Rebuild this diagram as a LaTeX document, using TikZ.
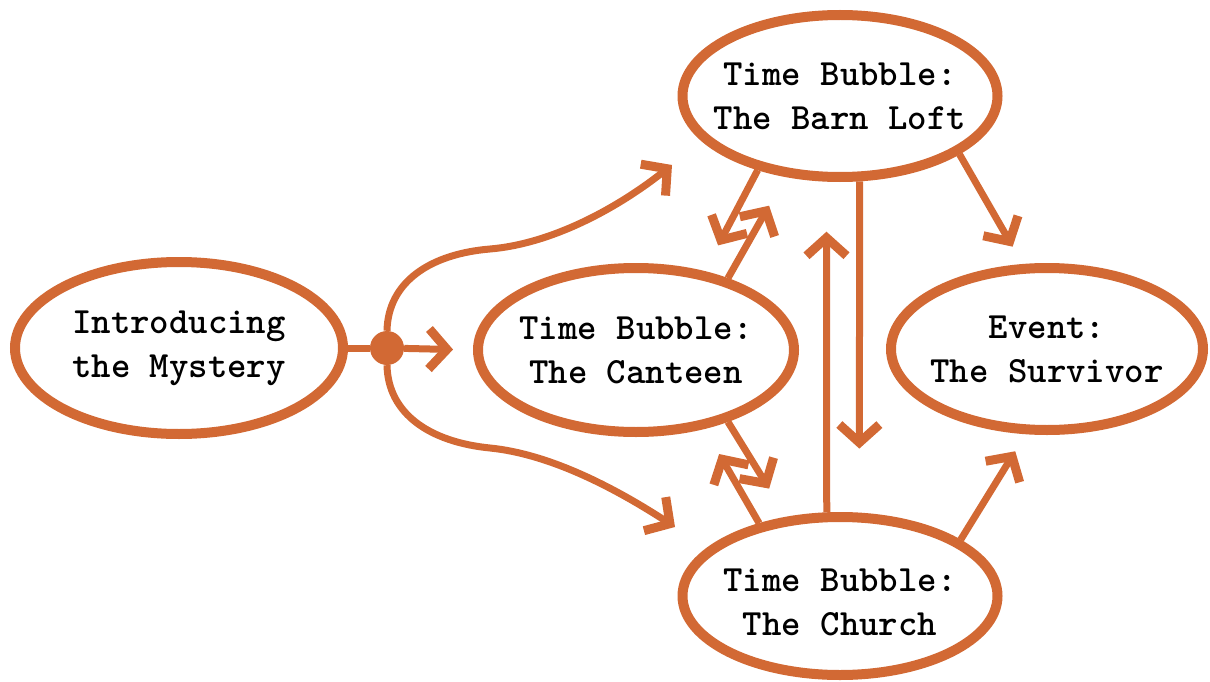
\documentclass[tikz,border=0pt]{standalone}
\usetikzlibrary{shapes.geometric,arrows.meta}
\definecolor{brush}{RGB}{210,105,52}
\begin{document}
\begin{tikzpicture}[x=1pt,y=-1pt,
  bubble/.style={ellipse, draw=brush, line width=10pt, inner sep=0pt},
  bubbletext/.style={align=center, inner sep=0pt,
    font=\ttfamily\bfseries\fontsize{37}{44}\selectfont},
  link/.style={draw=brush, line width=7pt, -{Straight Barb[length=18pt,width=40pt,line width=9pt]}},
  plainlink/.style={draw=brush, line width=7pt},
]
\useasboundingbox (0,0) rectangle (1210,682);
\node[bubble, minimum width=328pt, minimum height=172pt,
  label={[bubbletext]center:Introducing\\the Mystery}] (intro) at (179,348) {};
\node[bubble, minimum width=316pt, minimum height=164pt,
  label={[bubbletext]center:Time Bubble:\\The Canteen}] (canteen) at (636,350) {};
\node[bubble, minimum width=315pt, minimum height=162pt,
  label={[bubbletext]center:Time Bubble:\\The Barn Loft}] (barn) at (840,96) {};
\node[bubble, minimum width=312pt, minimum height=162pt,
  label={[bubbletext]center:Event:\\The Survivor}] (event) at (1047,349) {};
\node[bubble, minimum width=315pt, minimum height=158pt,
  label={[bubbletext, yshift=-6pt]center:Time Bubble:\\The Church}] (church) at (840,596) {};
\node[circle, fill=brush, minimum size=34pt, inner sep=0pt] (hub) at (387,348) {};
\coordinate (uptip) at (672,165);
\coordinate (downtip) at (675,527);

\draw[plainlink] (intro.east) -- (hub);
\draw[link, shorten >=20pt] (hub) -- (canteen.west);
\draw[link] (hub.north) .. controls (388,282) and (430,254) .. (490,249)
  .. controls (550,244) and (615,210) .. (uptip);
\draw[link] (hub.south) .. controls (388,414) and (430,442) .. (490,448)
  .. controls (550,454) and (615,488) .. (downtip);

\draw[link, shorten >=29pt] (barn.222) -- (canteen.49);
\draw[link, shorten >=33pt] (canteen.38) -- (barn.236);
\draw[link, shorten >=33pt] (canteen.322) -- (church.124);
\draw[link, shorten >=29pt] (church.138) -- (canteen.311);

\draw[link, shorten >=64pt] (barn.283) -- (church.77);
\draw[link, shorten >=50pt] (church.99) -- (barn.261);

\draw[link, shorten >=20pt] (barn.334) -- (event.106);
\draw[link, shorten >=20pt] (church.25) -- (event.256);
\end{tikzpicture}
\end{document}
